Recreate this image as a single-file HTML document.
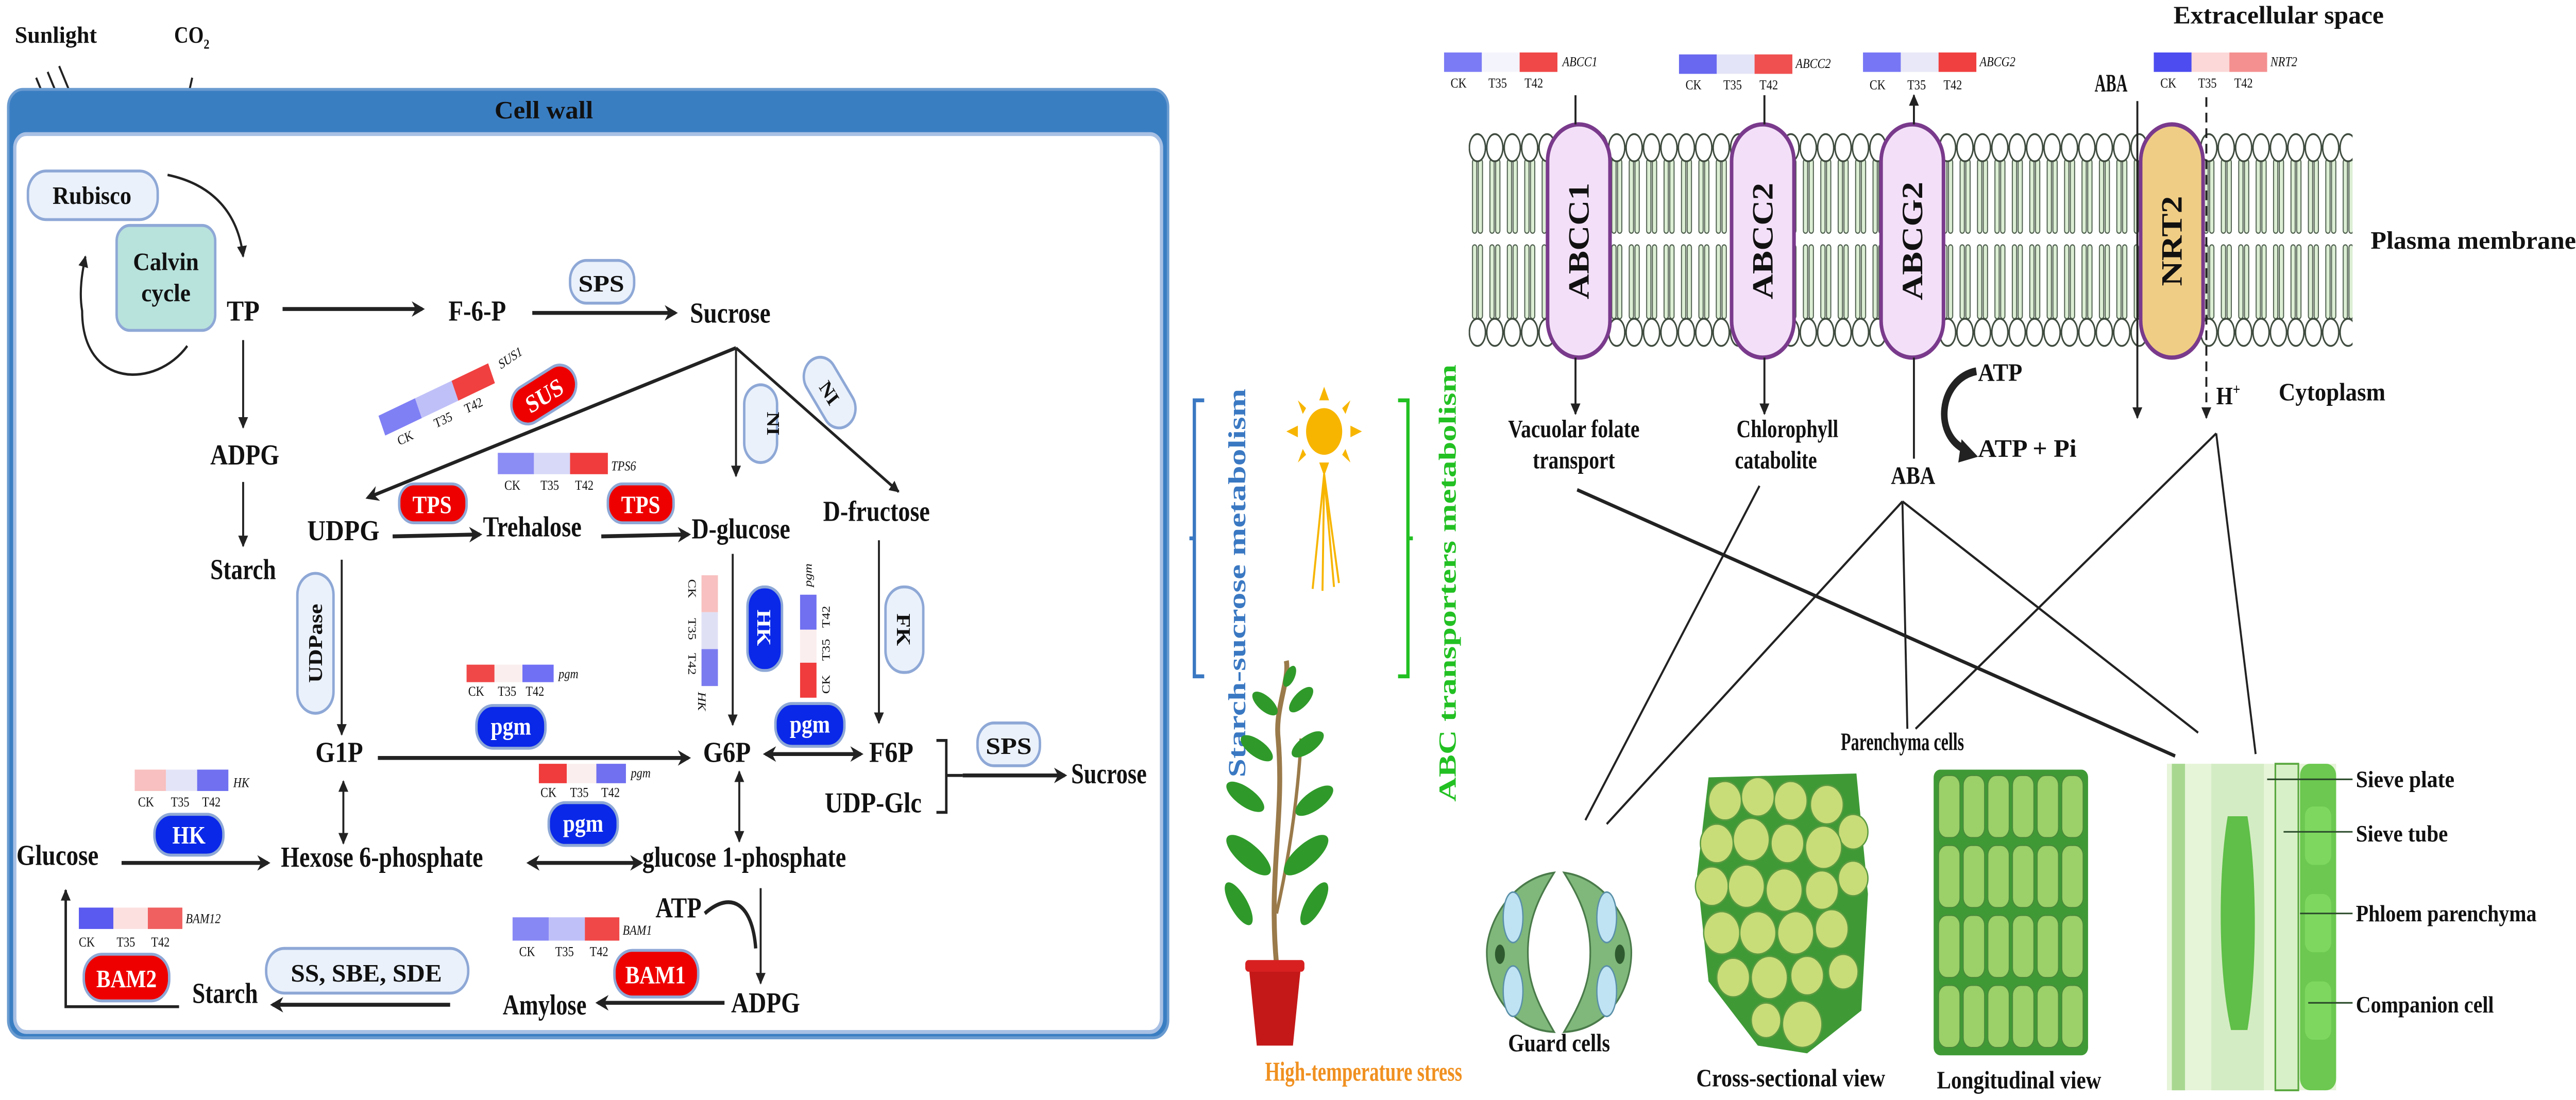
<!DOCTYPE html>
<html><head><meta charset="utf-8"><style>
html,body{margin:0;padding:0;background:#fff;width:100%;height:100%;overflow:hidden;}
svg{display:block;position:absolute;left:0;top:0;width:100vw;height:100vh;}
text{font-family:"Liberation Serif",serif;font-weight:bold;fill:#111;}
.s{font-size:7px;font-weight:normal;}
.i{font-size:7px;font-style:italic;font-weight:normal;}
.L{font-size:15px;}
.w{fill:#fff;}
</style></head><body>
<svg viewBox="0 0 1568 566" preserveAspectRatio="none" xmlns="http://www.w3.org/2000/svg">
<defs>
<marker id="a" viewBox="0 0 10 10" refX="9" refY="5" markerWidth="6" markerHeight="7" orient="auto-start-reverse" markerUnits="userSpaceOnUse"><path d="M0,0 L10,5 L0,10 z" fill="#222"/></marker>
<marker id="b" viewBox="0 0 10 10" refX="8" refY="5" markerWidth="8" markerHeight="9" orient="auto-start-reverse" markerUnits="userSpaceOnUse"><path d="M0,0 L10,5 L0,10 L3,5 z" fill="#222"/></marker>
<pattern id="lip" x="894" y="64" width="10.6" height="120" patternUnits="userSpaceOnUse">
<rect x="2.3" y="18" width="2.6" height="38" rx="1.3" fill="#dcefd4" stroke="#4a5a4a" stroke-width="0.6"/>
<rect x="5.8" y="18" width="2.6" height="38" rx="1.3" fill="#dcefd4" stroke="#4a5a4a" stroke-width="0.6"/>
<rect x="2.3" y="62" width="2.6" height="38" rx="1.3" fill="#dcefd4" stroke="#4a5a4a" stroke-width="0.6"/>
<rect x="5.8" y="62" width="2.6" height="38" rx="1.3" fill="#dcefd4" stroke="#4a5a4a" stroke-width="0.6"/>
<ellipse cx="5.3" cy="12" rx="4.9" ry="7" fill="#fff" stroke="#3d4a3d" stroke-width="0.9"/>
<ellipse cx="5.3" cy="107" rx="4.9" ry="7" fill="#fff" stroke="#3d4a3d" stroke-width="0.9"/>
</pattern>
</defs>

<text x="9" y="22" font-size="12" textLength="50" lengthAdjust="spacingAndGlyphs">Sunlight</text>
<text x="106" y="22" font-size="12">CO<tspan font-size="7" dy="3">2</tspan></text>
<g stroke="#222" stroke-width="1.2" fill="none" marker-end="url(#a)">
<line x1="22" y1="40" x2="43" y2="83"/><line x1="29" y1="37" x2="50" y2="80"/><line x1="36" y1="34" x2="57" y2="77"/>
<line x1="117" y1="40" x2="105" y2="85"/>
</g>
<rect x="5" y="46" width="706" height="488" rx="9" fill="#3a7ec2" stroke="#6a9bd0" stroke-width="1.5"/>
<rect x="9" y="69" width="698" height="462" rx="7" fill="#fff" stroke="#a8c0e4" stroke-width="2"/>
<text x="331" y="61" font-size="13" text-anchor="middle" textLength="60" lengthAdjust="spacingAndGlyphs">Cell wall</text>

<rect x="17" y="88" width="79" height="25" rx="11" fill="#eaf1fb" stroke="#8ea8d6" stroke-width="1.5"/>
<text x="56" y="105" font-size="13" text-anchor="middle" textLength="48" lengthAdjust="spacingAndGlyphs">Rubisco</text>
<rect x="71" y="116" width="60" height="54" rx="8" fill="#b8e2dc" stroke="#8ea8d6" stroke-width="1.5"/>
<text x="101" y="139" font-size="13" text-anchor="middle" textLength="40" lengthAdjust="spacingAndGlyphs">Calvin</text>
<text x="101" y="155" font-size="13" text-anchor="middle" textLength="30" lengthAdjust="spacingAndGlyphs">cycle</text>
<path d="M102,90 C130,95 145,110 148,132" stroke="#222" stroke-width="1.3" fill="none" marker-end="url(#a)"/>
<path d="M114,178 C95,200 50,200 50,160 C48,150 50,140 52,132" stroke="#222" stroke-width="1.3" fill="none" marker-end="url(#a)"/>

<text x="138" y="165" class="L" textLength="20" lengthAdjust="spacingAndGlyphs">TP</text>
<line x1="172" y1="159" x2="257" y2="159" stroke="#222" stroke-width="2" marker-end="url(#b)"/>
<text x="273" y="165" class="L" textLength="35" lengthAdjust="spacingAndGlyphs">F-6-P</text>
<rect x="347" y="134" width="39" height="22" rx="10" fill="#eaf1fb" stroke="#8ea8d6" stroke-width="1.5"/>
<text x="366" y="150" font-size="12" text-anchor="middle" textLength="28" lengthAdjust="spacingAndGlyphs">SPS</text>
<line x1="324" y1="161" x2="411" y2="161" stroke="#222" stroke-width="2" marker-end="url(#b)"/>
<text x="420" y="166" class="L" textLength="49" lengthAdjust="spacingAndGlyphs">Sucrose</text>

<line x1="148" y1="175" x2="148" y2="220" stroke="#222" stroke-width="1.2" marker-end="url(#a)"/>
<text x="128" y="239" class="L" textLength="42" lengthAdjust="spacingAndGlyphs">ADPG</text>
<line x1="148" y1="248" x2="148" y2="281" stroke="#222" stroke-width="1.2" marker-end="url(#a)"/>
<text x="128" y="298" class="L" textLength="40" lengthAdjust="spacingAndGlyphs">Starch</text>

<line x1="448" y1="179" x2="224" y2="256" stroke="#222" stroke-width="1.8" marker-end="url(#b)"/>
<line x1="448" y1="179" x2="448" y2="245" stroke="#222" stroke-width="1.2" marker-end="url(#a)"/>
<line x1="448" y1="179" x2="547" y2="253" stroke="#222" stroke-width="1.5" marker-end="url(#a)"/>

<g transform="translate(266,206) rotate(-22)">
<rect x="-36" y="-6" width="24" height="11" fill="#8080f5"/><rect x="-12" y="-6" width="24" height="11" fill="#c0c0f8"/><rect x="12" y="-6" width="24" height="11" fill="#f04040"/>
<text x="-30" y="13" class="s">CK</text><text x="-6" y="13" class="s">T35</text><text x="14" y="13" class="s">T42</text>
</g>
<text x="305" y="190" class="i" transform="rotate(-30 305 190)">SUS1</text>
<g transform="translate(331,203) rotate(-28)"><rect x="-21" y="-10" width="42" height="20" rx="10" fill="#ee0000" stroke="#8ea8d6" stroke-width="1.5"/><text x="0" y="5" font-size="13" class="w" text-anchor="middle">SUS</text></g>
<g transform="translate(463,218)"><rect x="-10" y="-20" width="20" height="40" rx="10" fill="#eaf1fb" stroke="#8ea8d6" stroke-width="1.5"/><text x="0" y="-4" font-size="11" text-anchor="middle" transform="rotate(90)">NI</text></g>
<g transform="translate(505,202) rotate(-35)"><rect x="-10" y="-20" width="20" height="40" rx="10" fill="#eaf1fb" stroke="#8ea8d6" stroke-width="1.5"/><text x="0" y="4" font-size="11" text-anchor="middle" transform="rotate(90)">NI</text></g>

<rect x="303" y="233" width="22" height="11" fill="#8c8cf5"/><rect x="325" y="233" width="22" height="11" fill="#d8d8f8"/><rect x="347" y="233" width="23" height="11" fill="#f03c3c"/>
<text x="307" y="252" class="s">CK</text><text x="329" y="252" class="s">T35</text><text x="350" y="252" class="s">T42</text>
<text x="372" y="242" class="i">TPS6</text>
<rect x="243" y="249" width="41" height="20" rx="9" fill="#ee0000" stroke="#8ea8d6" stroke-width="1.5"/>
<text x="263" y="264" font-size="13" class="w" text-anchor="middle">TPS</text>
<rect x="370" y="249" width="40" height="20" rx="9" fill="#ee0000" stroke="#8ea8d6" stroke-width="1.5"/>
<text x="390" y="264" font-size="13" class="w" text-anchor="middle">TPS</text>
<text x="187" y="278" class="L" textLength="44" lengthAdjust="spacingAndGlyphs">UDPG</text>
<line x1="239" y1="276" x2="292" y2="275" stroke="#222" stroke-width="2" marker-end="url(#b)"/>
<text x="294" y="276" class="L" textLength="60" lengthAdjust="spacingAndGlyphs">Trehalose</text>
<line x1="366" y1="276" x2="419" y2="275" stroke="#222" stroke-width="2" marker-end="url(#b)"/>
<text x="421" y="277" class="L" textLength="60" lengthAdjust="spacingAndGlyphs">D-glucose</text>
<text x="501" y="268" class="L" textLength="65" lengthAdjust="spacingAndGlyphs">D-fructose</text>

<rect x="181" y="295" width="22" height="72" rx="11" fill="#eaf1fb" stroke="#8ea8d6" stroke-width="1.5"/>
<text font-size="12" text-anchor="middle" transform="translate(196,331) rotate(-90)">UDPase</text>
<line x1="208" y1="288" x2="208" y2="378" stroke="#222" stroke-width="1.2" marker-end="url(#a)"/>
<text x="192" y="392" class="L" textLength="29" lengthAdjust="spacingAndGlyphs">G1P</text>
<line x1="230" y1="390" x2="419" y2="390" stroke="#222" stroke-width="2" marker-end="url(#b)"/>
<rect x="284" y="342" width="17" height="9" fill="#f04848"/><rect x="301" y="342" width="17" height="9" fill="#fbeeee"/><rect x="318" y="342" width="19" height="9" fill="#7070f5"/>
<text x="340" y="349" class="i">pgm</text>
<text x="285" y="358" class="s">CK</text><text x="303" y="358" class="s">T35</text><text x="320" y="358" class="s">T42</text>
<rect x="290" y="363" width="42" height="22" rx="10" fill="#0a28e8" stroke="#8ea8d6" stroke-width="1.5"/>
<text x="311" y="378" font-size="13" class="w" text-anchor="middle">pgm</text>

<rect x="427" y="296" width="10" height="19" fill="#f8c0c0"/><rect x="427" y="315" width="10" height="19" fill="#e0e0f5"/><rect x="427" y="334" width="10" height="19" fill="#7b7bf0"/>
<text class="s" transform="translate(419,298) rotate(90)">CK</text><text class="s" transform="translate(419,318) rotate(90)">T35</text><text class="s" transform="translate(419,336) rotate(90)">T42</text><text class="i" transform="translate(425,356) rotate(90)">HK</text>
<rect x="455" y="302" width="21" height="43" rx="10" fill="#0a28e8" stroke="#8ea8d6" stroke-width="1.5"/>
<text font-size="12" class="w" text-anchor="middle" transform="translate(461,323) rotate(90)">HK</text>
<line x1="446" y1="285" x2="446" y2="373" stroke="#222" stroke-width="1.2" marker-end="url(#a)"/>
<rect x="487" y="306" width="10" height="18" fill="#7070f0"/><rect x="487" y="324" width="10" height="17" fill="#fbeeee"/><rect x="487" y="341" width="10" height="18" fill="#f03c3c"/>
<text class="i" transform="translate(494,302) rotate(-90)">pgm</text>
<text class="s" transform="translate(505,323) rotate(-90)">T42</text><text class="s" transform="translate(505,340) rotate(-90)">T35</text><text class="s" transform="translate(505,357) rotate(-90)">CK</text>
<rect x="472" y="362" width="42" height="22" rx="10" fill="#0a28e8" stroke="#8ea8d6" stroke-width="1.5"/>
<text x="493" y="377" font-size="13" class="w" text-anchor="middle">pgm</text>
<text x="428" y="392" class="L" textLength="29" lengthAdjust="spacingAndGlyphs">G6P</text>
<line x1="466" y1="388" x2="524" y2="388" stroke="#222" stroke-width="2" marker-start="url(#b)" marker-end="url(#b)"/>
<text x="529" y="392" class="L" textLength="27" lengthAdjust="spacingAndGlyphs">F6P</text>
<rect x="539" y="302" width="23" height="44" rx="11" fill="#eaf1fb" stroke="#8ea8d6" stroke-width="1.5"/>
<text font-size="12" text-anchor="middle" transform="translate(546,324) rotate(90)">FK</text>
<line x1="535" y1="278" x2="535" y2="372" stroke="#222" stroke-width="1.2" marker-end="url(#a)"/>
<rect x="595" y="372" width="38" height="22" rx="10" fill="#eaf1fb" stroke="#8ea8d6" stroke-width="1.5"/>
<text x="614" y="388" font-size="12" text-anchor="middle" textLength="28" lengthAdjust="spacingAndGlyphs">SPS</text>
<path d="M570,381 L576,381 L576,399 L586,399 M586,399 L576,399 L576,418 L570,418" stroke="#222" stroke-width="1.5" fill="none"/>
<line x1="586" y1="399" x2="648" y2="399" stroke="#222" stroke-width="2" marker-end="url(#b)"/>
<text x="652" y="403" class="L" textLength="46" lengthAdjust="spacingAndGlyphs">Sucrose</text>
<text x="502" y="418" class="L" textLength="59" lengthAdjust="spacingAndGlyphs">UDP-Glc</text>

<rect x="82" y="396" width="19" height="11" fill="#f8c0c0"/><rect x="101" y="396" width="19" height="11" fill="#e4e4f8"/><rect x="120" y="396" width="19" height="11" fill="#7070f0"/>
<text x="142" y="405" class="i">HK</text>
<text x="84" y="415" class="s">CK</text><text x="104" y="415" class="s">T35</text><text x="123" y="415" class="s">T42</text>
<rect x="94" y="419" width="42" height="21" rx="10" fill="#0a28e8" stroke="#8ea8d6" stroke-width="1.5"/>
<text x="115" y="434" font-size="13" class="w" text-anchor="middle">HK</text>
<text x="10" y="445" class="L" textLength="50" lengthAdjust="spacingAndGlyphs">Glucose</text>
<line x1="74" y1="444" x2="163" y2="444" stroke="#222" stroke-width="2" marker-end="url(#b)"/>
<text x="171" y="446" class="L" textLength="123" lengthAdjust="spacingAndGlyphs">Hexose 6-phosphate</text>
<line x1="209" y1="402" x2="209" y2="434" stroke="#222" stroke-width="1.2" marker-start="url(#a)" marker-end="url(#a)"/>
<rect x="328" y="393" width="17" height="10" fill="#f03c3c"/><rect x="345" y="393" width="18" height="10" fill="#fbeeee"/><rect x="363" y="393" width="18" height="10" fill="#7070f0"/>
<text x="384" y="400" class="i">pgm</text>
<text x="329" y="410" class="s">CK</text><text x="347" y="410" class="s">T35</text><text x="366" y="410" class="s">T42</text>
<rect x="334" y="413" width="42" height="22" rx="10" fill="#0a28e8" stroke="#8ea8d6" stroke-width="1.5"/>
<text x="355" y="428" font-size="13" class="w" text-anchor="middle">pgm</text>
<line x1="322" y1="444" x2="390" y2="444" stroke="#222" stroke-width="2" marker-start="url(#b)" marker-end="url(#b)"/>
<text x="391" y="446" class="L" textLength="124" lengthAdjust="spacingAndGlyphs">glucose 1-phosphate</text>
<line x1="450" y1="397" x2="450" y2="433" stroke="#222" stroke-width="1.2" marker-start="url(#a)" marker-end="url(#a)"/>

<text x="399" y="472" class="L" textLength="28" lengthAdjust="spacingAndGlyphs">ATP</text>
<path d="M429,470 C445,458 458,465 460,488" stroke="#222" stroke-width="2" fill="none"/>
<line x1="463" y1="457" x2="463" y2="506" stroke="#222" stroke-width="1.2" marker-end="url(#a)"/>
<text x="445" y="521" class="L" textLength="42" lengthAdjust="spacingAndGlyphs">ADPG</text>
<rect x="312" y="472" width="22" height="12" fill="#8888f5"/><rect x="334" y="472" width="22" height="12" fill="#c0c0f8"/><rect x="356" y="472" width="21" height="12" fill="#f04848"/>
<text x="379" y="481" class="i">BAM1</text>
<text x="316" y="492" class="s">CK</text><text x="338" y="492" class="s">T35</text><text x="359" y="492" class="s">T42</text>
<rect x="374" y="489" width="51" height="24" rx="11" fill="#ee0000" stroke="#8ea8d6" stroke-width="1.5"/>
<text x="399" y="506" font-size="13" class="w" text-anchor="middle">BAM1</text>
<line x1="441" y1="516" x2="364" y2="516" stroke="#222" stroke-width="2" marker-end="url(#b)"/>
<text x="306" y="522" class="L" textLength="51" lengthAdjust="spacingAndGlyphs">Amylose</text>
<rect x="162" y="488" width="123" height="23" rx="11" fill="#eaf1fb" stroke="#8ea8d6" stroke-width="1.5"/>
<text x="223" y="505" font-size="13" text-anchor="middle" textLength="92" lengthAdjust="spacingAndGlyphs">SS, SBE, SDE</text>
<line x1="274" y1="517" x2="166" y2="517" stroke="#222" stroke-width="2" marker-end="url(#b)"/>
<text x="117" y="516" class="L" textLength="40" lengthAdjust="spacingAndGlyphs">Starch</text>
<rect x="48" y="467" width="21" height="11" fill="#5a5af0"/><rect x="69" y="467" width="21" height="11" fill="#fce0e0"/><rect x="90" y="467" width="21" height="11" fill="#f06060"/>
<text x="113" y="475" class="i">BAM12</text>
<text x="48" y="487" class="s">CK</text><text x="71" y="487" class="s">T35</text><text x="92" y="487" class="s">T42</text>
<rect x="51" y="491" width="52" height="24" rx="11" fill="#ee0000" stroke="#8ea8d6" stroke-width="1.5"/>
<text x="77" y="508" font-size="13" class="w" text-anchor="middle">BAM2</text>
<path d="M109,518 L40,518 L40,458" stroke="#222" stroke-width="1.5" fill="none" marker-end="url(#a)"/>

<path d="M733,206 L727,206 L727,348 L733,348 M727,277 L724,277" stroke="#3a78c2" stroke-width="2" fill="none"/>
<text font-size="15" style="fill:#3a78c2" text-anchor="middle" transform="translate(758,300) rotate(-90)" textLength="200" lengthAdjust="spacingAndGlyphs">Starch-sucrose metabolism</text>
<path d="M851,206 L857,206 L857,348 L851,348 M857,277 L860,277" stroke="#22c022" stroke-width="2" fill="none"/>
<text font-size="15" style="fill:#22c022" text-anchor="middle" transform="translate(886,300) rotate(-90)" textLength="225" lengthAdjust="spacingAndGlyphs">ABC transporters metabolism</text>
<g fill="#f7b500" stroke="none">
<ellipse cx="806" cy="222" rx="11" ry="12"/>
<polygon points="806,199 803,206 809,206"/><polygon points="806,245 803,238 809,238"/>
<polygon points="783,222 790,219 790,225"/><polygon points="829,222 822,219 822,225"/>
<polygon points="790,206 795,210 793,213"/><polygon points="822,206 817,210 819,213"/>
<polygon points="790,238 795,234 793,231"/><polygon points="822,238 817,234 819,231"/>
</g>
<g stroke="#f7b500" stroke-width="1.2"><line x1="806" y1="244" x2="799" y2="303"/><line x1="806" y1="244" x2="805" y2="304"/><line x1="806" y1="244" x2="812" y2="302"/><line x1="806" y1="244" x2="815" y2="300"/></g>
<path d="M777,496 C772,450 782,420 778,380 C776,365 785,350 783,340" stroke="#9a7a4a" stroke-width="3" fill="none"/>
<path d="M777,470 C785,440 790,410 792,380" stroke="#9a7a4a" stroke-width="2" fill="none"/>
<g fill="#2f9a2a">
<ellipse cx="760" cy="440" rx="16" ry="6" transform="rotate(35 760 440)"/>
<ellipse cx="795" cy="440" rx="16" ry="6" transform="rotate(-35 795 440)"/>
<ellipse cx="758" cy="410" rx="13" ry="5" transform="rotate(30 758 410)"/>
<ellipse cx="800" cy="412" rx="13" ry="5" transform="rotate(-30 800 412)"/>
<ellipse cx="765" cy="385" rx="11" ry="4.5" transform="rotate(30 765 385)"/>
<ellipse cx="796" cy="383" rx="11" ry="4.5" transform="rotate(-30 796 383)"/>
<ellipse cx="770" cy="362" rx="9" ry="4" transform="rotate(35 770 362)"/>
<ellipse cx="792" cy="360" rx="9" ry="4" transform="rotate(-40 792 360)"/>
<ellipse cx="754" cy="465" rx="13" ry="5" transform="rotate(55 754 465)"/>
<ellipse cx="800" cy="465" rx="13" ry="5" transform="rotate(-55 800 465)"/>
<ellipse cx="785" cy="348" rx="6" ry="3" transform="rotate(-60 785 348)"/>
</g>
<path d="M760,496 L792,496 L787,538 L765,538 Z" fill="#c41818"/>
<rect x="758" y="494" width="36" height="6" rx="2" fill="#d82020"/>
<text x="770" y="556" font-size="14" style="fill:#f09020" textLength="120" lengthAdjust="spacingAndGlyphs">High-temperature stress</text>

<text x="1323" y="12" font-size="13" textLength="128" lengthAdjust="spacingAndGlyphs">Extracellular space</text>
<rect x="894" y="64" width="538" height="120" fill="url(#lip)"/>
<rect x="879" y="27" width="23" height="10" fill="#7b7bf5"/><rect x="902" y="27" width="23" height="10" fill="#f4f4fc"/><rect x="925" y="27" width="23" height="10" fill="#f04848"/>
<text x="951" y="34" class="i">ABCC1</text>
<text x="883" y="45" class="s">CK</text><text x="906" y="45" class="s">T35</text><text x="928" y="45" class="s">T42</text>
<rect x="1022" y="28" width="23" height="10" fill="#6868f0"/><rect x="1045" y="28" width="23" height="10" fill="#e4e4f8"/><rect x="1068" y="28" width="23" height="10" fill="#f05050"/>
<text x="1093" y="35" class="i">ABCC2</text>
<text x="1026" y="46" class="s">CK</text><text x="1049" y="46" class="s">T35</text><text x="1071" y="46" class="s">T42</text>
<rect x="1134" y="27" width="23" height="10" fill="#7777f5"/><rect x="1157" y="27" width="23" height="10" fill="#e8e8f8"/><rect x="1180" y="27" width="23" height="10" fill="#f04040"/>
<text x="1205" y="34" class="i">ABCG2</text>
<text x="1138" y="46" class="s">CK</text><text x="1161" y="46" class="s">T35</text><text x="1183" y="46" class="s">T42</text>
<rect x="1311" y="27" width="23" height="10" fill="#4c4cf0"/><rect x="1334" y="27" width="23" height="10" fill="#fcd8d8"/><rect x="1357" y="27" width="23" height="10" fill="#f49090"/>
<text x="1382" y="34" class="i">NRT2</text>
<text x="1315" y="45" class="s">CK</text><text x="1338" y="45" class="s">T35</text><text x="1360" y="45" class="s">T42</text>
<text x="1275" y="47" font-size="13" textLength="20" lengthAdjust="spacingAndGlyphs">ABA</text>
<rect x="942" y="64" width="38" height="120" rx="19" fill="#f3e0f8" stroke="#7a3a8c" stroke-width="2.2"/>
<text font-size="18" text-anchor="middle" transform="translate(967,124) rotate(-90)">ABCC1</text>
<rect x="1054" y="64" width="38" height="120" rx="19" fill="#f3e0f8" stroke="#7a3a8c" stroke-width="2.2"/>
<text font-size="18" text-anchor="middle" transform="translate(1079,124) rotate(-90)">ABCC2</text>
<rect x="1145" y="64" width="38" height="120" rx="19" fill="#f3e0f8" stroke="#7a3a8c" stroke-width="2.2"/>
<text font-size="18" text-anchor="middle" transform="translate(1170,124) rotate(-90)">ABCG2</text>
<rect x="1303" y="64" width="38" height="120" rx="19" fill="#f0cd85" stroke="#7a3a8c" stroke-width="2.2"/>
<text font-size="18" text-anchor="middle" transform="translate(1328,124) rotate(-90)">NRT2</text>
<g stroke="#222" stroke-width="1.2" fill="none">
<line x1="959" y1="49" x2="959" y2="64"/><line x1="959" y1="184" x2="959" y2="213" marker-end="url(#a)"/>
<line x1="1074" y1="49" x2="1074" y2="64"/><line x1="1074" y1="184" x2="1074" y2="213" marker-end="url(#a)"/>
<line x1="1165" y1="64" x2="1165" y2="49" marker-end="url(#a)"/><line x1="1165" y1="184" x2="1165" y2="236"/>
<line x1="1301" y1="52" x2="1301" y2="215" marker-end="url(#a)"/>
<line x1="1343" y1="50" x2="1343" y2="215" stroke-dasharray="5,3" marker-end="url(#a)"/>
</g>
<text x="1443" y="128" font-size="13" textLength="125" lengthAdjust="spacingAndGlyphs">Plasma membrane</text>
<text x="1204" y="196" font-size="13" textLength="27" lengthAdjust="spacingAndGlyphs">ATP</text>
<path d="M1203,191 C1180,195 1176,225 1198,232" stroke="#222" stroke-width="4" fill="none"/>
<path d="M1194,226 L1204,235 L1192,238 Z" fill="#222"/>
<text x="1204" y="235" font-size="13" textLength="60" lengthAdjust="spacingAndGlyphs">ATP + Pi</text>
<text x="1151" y="249" font-size="13" textLength="27" lengthAdjust="spacingAndGlyphs">ABA</text>
<text x="1349" y="208" font-size="13">H<tspan font-size="8" dy="-5">+</tspan></text>
<text x="1387" y="206" font-size="13" textLength="65" lengthAdjust="spacingAndGlyphs">Cytoplasm</text>
<text x="958" y="225" font-size="13" text-anchor="middle" textLength="80" lengthAdjust="spacingAndGlyphs">Vacuolar folate</text>
<text x="958" y="241" font-size="13" text-anchor="middle" textLength="50" lengthAdjust="spacingAndGlyphs">transport</text>
<text x="1088" y="225" font-size="13" text-anchor="middle" textLength="62" lengthAdjust="spacingAndGlyphs">Chlorophyll</text>
<text x="1081" y="241" font-size="13" text-anchor="middle" textLength="50" lengthAdjust="spacingAndGlyphs">catabolite</text>
<g stroke="#222" fill="none">
<line x1="960" y1="252" x2="1324" y2="389" stroke-width="1.8"/>
<line x1="1071" y1="250" x2="965" y2="422" stroke-width="1.2"/>
<line x1="1158" y1="258" x2="978" y2="424" stroke-width="1.2"/>
<line x1="1158" y1="258" x2="1161" y2="375" stroke-width="1.2"/>
<line x1="1158" y1="258" x2="1338" y2="377" stroke-width="1.2"/>
<line x1="1349" y1="223" x2="1166" y2="375" stroke-width="1.2"/>
<line x1="1349" y1="223" x2="1373" y2="388" stroke-width="1.2"/>
</g>
<text x="1158" y="386" font-size="13" text-anchor="middle" textLength="75" lengthAdjust="spacingAndGlyphs">Parenchyma cells</text>

<path d="M946,449 C920,452 905,475 905,490 C905,510 920,530 946,531 C935,515 930,505 930,490 C930,472 938,460 946,449 Z" fill="#7fb87a" stroke="#4a7a4a" stroke-width="1"/>
<path d="M952,449 C978,452 993,475 993,490 C993,510 978,530 952,531 C963,515 968,505 968,490 C968,472 960,460 952,449 Z" fill="#7fb87a" stroke="#4a7a4a" stroke-width="1"/>
<ellipse cx="921" cy="472" rx="6" ry="13" fill="#bfe3f3" stroke="#5a90a8" stroke-width="0.8"/>
<ellipse cx="921" cy="510" rx="6" ry="13" fill="#bfe3f3" stroke="#5a90a8" stroke-width="0.8"/>
<ellipse cx="978" cy="472" rx="6" ry="13" fill="#bfe3f3" stroke="#5a90a8" stroke-width="0.8"/>
<ellipse cx="978" cy="510" rx="6" ry="13" fill="#bfe3f3" stroke="#5a90a8" stroke-width="0.8"/>
<ellipse cx="913" cy="491" rx="3" ry="5" fill="#2f5a2f"/><ellipse cx="986" cy="491" rx="3" ry="5" fill="#2f5a2f"/>
<text x="949" y="541" font-size="13" text-anchor="middle" textLength="62" lengthAdjust="spacingAndGlyphs">Guard cells</text>
<path d="M1040,400 L1130,398 L1137,460 L1133,520 L1100,542 L1070,538 L1040,505 L1033,450 Z" fill="#3f9a36"/>
<g fill="#c8dc78" stroke="#5a9a40" stroke-width="0.8">
<circle cx="1050" cy="412" r="10"/><circle cx="1070" cy="410" r="10"/><circle cx="1090" cy="412" r="10"/><circle cx="1112" cy="414" r="10"/><circle cx="1128" cy="428" r="9"/>
<circle cx="1045" cy="434" r="10"/><circle cx="1066" cy="432" r="11"/><circle cx="1088" cy="434" r="10"/><circle cx="1110" cy="436" r="11"/>
<circle cx="1042" cy="456" r="10"/><circle cx="1063" cy="456" r="11"/><circle cx="1086" cy="458" r="11"/><circle cx="1109" cy="458" r="10"/><circle cx="1128" cy="452" r="9"/>
<circle cx="1048" cy="480" r="11"/><circle cx="1070" cy="480" r="11"/><circle cx="1093" cy="480" r="11"/><circle cx="1115" cy="478" r="10"/>
<circle cx="1055" cy="503" r="10"/><circle cx="1077" cy="503" r="11"/><circle cx="1100" cy="502" r="10"/><circle cx="1122" cy="500" r="9"/>
<circle cx="1075" cy="525" r="9"/><circle cx="1097" cy="527" r="12"/>
</g>
<text x="1090" y="559" font-size="13" text-anchor="middle" textLength="115" lengthAdjust="spacingAndGlyphs">Cross-sectional view</text>
<rect x="1177" y="396" width="94" height="147" rx="4" fill="#3f9a36"/>
<g fill="#9cd068" stroke="#4a8a3a" stroke-width="0.6">
<rect x="1180" y="399" width="13" height="32" rx="5"/><rect x="1195" y="399" width="13" height="32" rx="5"/><rect x="1210" y="399" width="13" height="32" rx="5"/><rect x="1225" y="399" width="13" height="32" rx="5"/><rect x="1240" y="399" width="13" height="32" rx="5"/><rect x="1255" y="399" width="13" height="32" rx="5"/>
<rect x="1180" y="435" width="13" height="32" rx="5"/><rect x="1195" y="435" width="13" height="32" rx="5"/><rect x="1210" y="435" width="13" height="32" rx="5"/><rect x="1225" y="435" width="13" height="32" rx="5"/><rect x="1240" y="435" width="13" height="32" rx="5"/><rect x="1255" y="435" width="13" height="32" rx="5"/>
<rect x="1180" y="471" width="13" height="32" rx="5"/><rect x="1195" y="471" width="13" height="32" rx="5"/><rect x="1210" y="471" width="13" height="32" rx="5"/><rect x="1225" y="471" width="13" height="32" rx="5"/><rect x="1240" y="471" width="13" height="32" rx="5"/><rect x="1255" y="471" width="13" height="32" rx="5"/>
<rect x="1180" y="507" width="13" height="32" rx="5"/><rect x="1195" y="507" width="13" height="32" rx="5"/><rect x="1210" y="507" width="13" height="32" rx="5"/><rect x="1225" y="507" width="13" height="32" rx="5"/><rect x="1240" y="507" width="13" height="32" rx="5"/><rect x="1255" y="507" width="13" height="32" rx="5"/>
</g>
<text x="1229" y="560" font-size="13" text-anchor="middle" textLength="100" lengthAdjust="spacingAndGlyphs">Longitudinal view</text>
<rect x="1319" y="393" width="103" height="168" fill="#e6f4d8"/>
<rect x="1322" y="393" width="8" height="168" fill="#a8d890"/>
<rect x="1346" y="393" width="32" height="168" fill="#d4ecc4"/>
<path d="M1356,420 C1350,450 1350,500 1358,530 L1368,530 C1374,500 1374,450 1368,420 Z" fill="#5fbf48"/>
<rect x="1385" y="393" width="14" height="168" fill="#d8f0c8" stroke="#5aa840" stroke-width="1"/>
<rect x="1400" y="393" width="22" height="168" rx="6" fill="#6cc850"/>
<rect x="1403" y="415" width="16" height="30" rx="5" fill="#7ed860"/><rect x="1403" y="460" width="16" height="30" rx="5" fill="#7ed860"/><rect x="1403" y="505" width="16" height="30" rx="5" fill="#7ed860"/>
<g stroke="#2a4a2a" stroke-width="0.8" fill="none">
<line x1="1380" y1="401" x2="1432" y2="401"/><line x1="1390" y1="428" x2="1432" y2="428"/><line x1="1400" y1="470" x2="1432" y2="470"/><line x1="1405" y1="516" x2="1432" y2="516"/>
</g>
<text x="1434" y="405" font-size="12" textLength="60" lengthAdjust="spacingAndGlyphs">Sieve plate</text>
<text x="1434" y="433" font-size="12" textLength="56" lengthAdjust="spacingAndGlyphs">Sieve tube</text>
<text x="1434" y="474" font-size="12" textLength="110" lengthAdjust="spacingAndGlyphs">Phloem parenchyma</text>
<text x="1434" y="521" font-size="12" textLength="84" lengthAdjust="spacingAndGlyphs">Companion cell</text>
</svg>
</body></html>
